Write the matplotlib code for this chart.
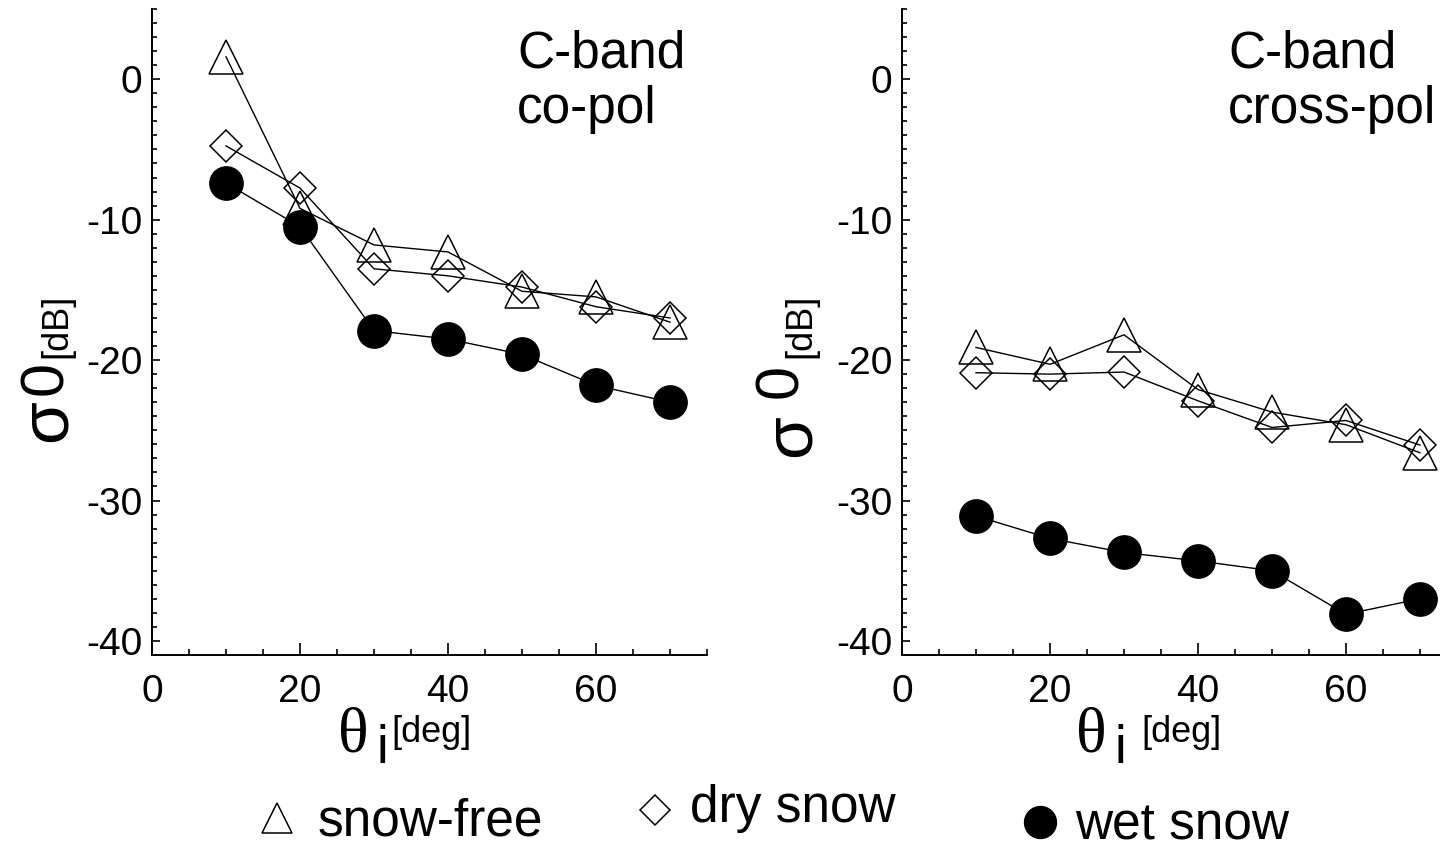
import numpy as np
import matplotlib
matplotlib.use('Agg')
import matplotlib.pyplot as plt
from matplotlib.lines import Line2D

plt.rcParams['font.family'] = ['Liberation Sans', 'DejaVu Sans']
plt.rcParams['axes.unicode_minus'] = False

# incidence angles [deg]
angles = [10, 20, 30, 40, 50, 60, 70]

# C-band co-pol sigma0 [dB]
co_free = [1.6, -9.2, -11.8, -12.3, -15.1, -15.5, -17.3]
co_dry = [-4.75, -7.75, -13.5, -14.0, -14.8, -16.2, -17.0]
co_wet = [-7.4, -10.5, -17.9, -18.5, -19.6, -21.8, -23.0]

# C-band cross-pol sigma0 [dB]
cross_free = [-19.1, -20.3, -18.2, -22.1, -23.7, -24.6, -26.6]
cross_dry = [-20.9, -21.0, -20.85, -22.9, -24.8, -24.3, -26.05]
cross_wet = [-31.1, -32.7, -33.7, -34.3, -35.0, -38.1, -37.0]

W, H = 1440, 842


# pixel -> figure fraction
def fx(px):
    return px / W


def fy(py):
    return 1 - py / H


free_style = dict(color='k', lw=1.0, marker='^', ms=24, mfc='none', mec='k', mew=1.1)
dry_style = dict(color='k', lw=1.0, marker='D', ms=16.5, mfc='none', mec='k', mew=1.1)
wet_style = dict(color='k', lw=1.0, marker='o', ms=24, mfc='k', mec='k')


def setup_axes(ax):
    ax.set_xlim(0, 75)
    ax.set_ylim(-41, 5)
    ax.spines['top'].set_visible(False)
    ax.spines['right'].set_visible(False)
    ax.spines['left'].set_linewidth(1.4)
    ax.spines['bottom'].set_linewidth(1.4)
    ax.set_xticks([0, 20, 40, 60])
    ax.set_xticks(np.arange(0, 76, 5), minor=True)
    ax.set_yticks([-40, -30, -20, -10, 0])
    ax.set_yticks(np.arange(-41, 6, 1), minor=True)
    ax.tick_params(axis='both', which='both', direction='in', width=1.2, labelsize=28)
    ax.tick_params(axis='x', which='major', length=9, pad=14)
    ax.tick_params(axis='x', which='minor', length=4.5)
    ax.tick_params(axis='y', which='major', length=6, pad=7)
    ax.tick_params(axis='y', which='minor', length=3.6)


fig = plt.figure(figsize=(W / 100, H / 100), dpi=100)

ax1 = fig.add_axes([fx(152), fy(655), 555 / W, 646 / H])
ax2 = fig.add_axes([fx(902), fy(655), 555 / W, 646 / H])

for ax, free, dry, wet in [(ax1, co_free, co_dry, co_wet), (ax2, cross_free, cross_dry, cross_wet)]:
    setup_axes(ax)
    ax.plot(angles, free, **free_style, clip_on=False)
    ax.plot(angles, dry, **dry_style, clip_on=False)
    ax.plot(angles, wet, **wet_style, clip_on=False)

# panel titles
fig.text(fx(517), fy(67), 'C-band', fontsize=37, ha='left', va='baseline')
fig.text(fx(517), fy(123), 'co-pol', fontsize=37, ha='left', va='baseline')
fig.text(fx(1228), fy(67), 'C-band', fontsize=37, ha='left', va='baseline')
fig.text(fx(1228), fy(123), 'cross-pol', fontsize=37, ha='left', va='baseline')

# y labels: sigma0 [dB]
for xb, sig_y, zero_y, zero_x, db_y in [(66, 442, 395, 62, 358), (810, 457, 398, 797, 358)]:
    fig.text(fx(xb), fy(sig_y), 'σ', fontsize=50, rotation=90,
             rotation_mode='anchor', ha='left', va='baseline')
    fig.text(fx(zero_x), fy(zero_y), '0', fontsize=44, rotation=90,
             rotation_mode='anchor', ha='left', va='baseline')
    fig.text(fx(xb), fy(db_y), '[dB]', fontsize=26, rotation=90,
             rotation_mode='anchor', ha='left', va='baseline')

# x labels: theta_i [deg]
for th_x, i_x, deg_x in [(338, 377, 391), (1076, 1114, 1141)]:
    fig.text(fx(th_x), fy(752), 'θ', fontsize=46, family='Liberation Serif',
             ha='left', va='baseline')
    fig.text(fx(i_x), fy(763), 'i', fontsize=38, ha='left', va='baseline')
    fig.text(fx(deg_x), fy(742), '[deg]', fontsize=26, ha='left', va='baseline')

# legend
fig.add_artist(Line2D([fx(277)], [fy(818)], transform=fig.transFigure, ls='none',
                      marker='^', ms=22, mfc='none', mec='k', mew=1.1))
fig.text(fx(318), fy(835), 'snow-free', fontsize=37, ha='left', va='baseline')
fig.add_artist(Line2D([fx(655)], [fy(810)], transform=fig.transFigure, ls='none',
                      marker='D', ms=15, mfc='none', mec='k', mew=1.1))
fig.text(fx(690), fy(822), 'dry snow', fontsize=37, ha='left', va='baseline')
fig.add_artist(Line2D([fx(1040)], [fy(822)], transform=fig.transFigure, ls='none',
                      marker='o', ms=23, mfc='k', mec='k'))
fig.text(fx(1075), fy(840), 'wet snow', fontsize=37, ha='left', va='baseline')

fig.savefig('out.png', dpi=100)
